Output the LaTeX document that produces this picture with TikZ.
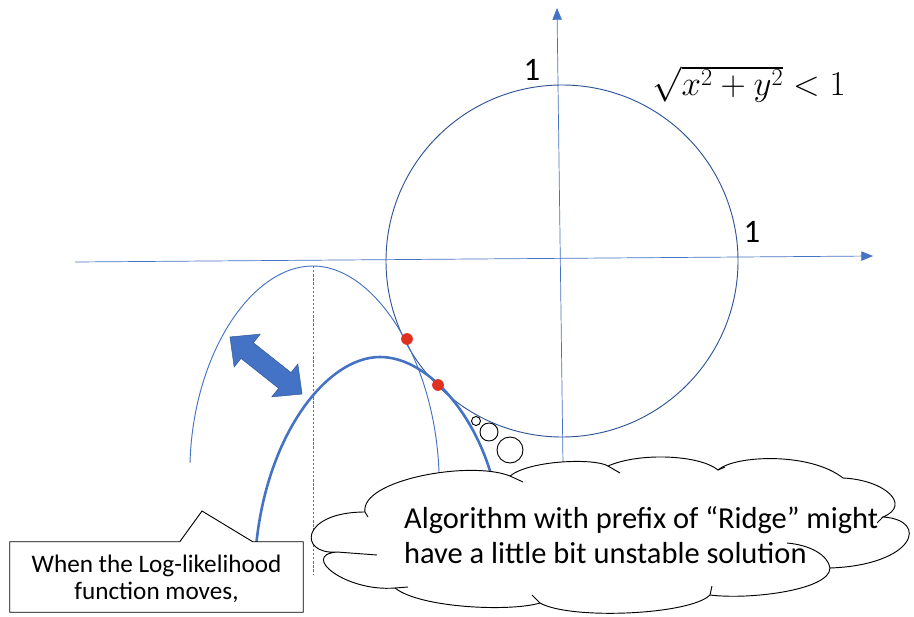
\documentclass[tikz,border=0pt]{standalone}
\usepackage{fontspec}
\setmainfont{Carlito}
\usepackage{tikz}
\usetikzlibrary{arrows.meta, positioning, calc}

\definecolor{axisblue}{RGB}{68,114,196}
\definecolor{ringblue}{RGB}{47,85,151}
\definecolor{dotred}{RGB}{224,48,32}

\begin{document}
\begin{tikzpicture}[x=0.03cm, y=-0.03cm,
    axis/.style={draw=axisblue, line width=0.6pt, -{Triangle[length=10pt, width=8pt]}},
    hit/.style={circle, fill=dotred, minimum size=10pt, inner sep=0pt},
    bubble/.style={circle, draw, line width=0.8pt, fill=white, inner sep=0pt}]
  \useasboundingbox (0,0) rectangle (914,617);

  % axes and the unit circle
  \coordinate (xs) at (75,262);
  \coordinate (xe) at (873,256);
  \coordinate (ys) at (563,465);
  \coordinate (ye) at (557,8);
  \draw[axis] (xs) -- (xe);
  \draw[axis] (ys) -- (ye);

  \node[circle, draw=ringblue, line width=0.8pt, minimum size=10.56cm, inner sep=0pt] (unit) at (562,261) {};
  \node (oney) at (532,70) {\fontsize{28}{30}\selectfont 1};
  \node (onex) at (752,232) {\fontsize{28}{30}\selectfont 1};
  \node[scale=1.2] (cond) at (749,84) {\fontsize{24}{26}\selectfont $\sqrt{x^2+y^2}<1$};

  % log-likelihood before and after the move
  \coordinate (oldl) at (190,463);
  \coordinate (oldtop) at (313,266);
  \coordinate (oldr) at (439,472);
  \coordinate (newl) at (255,560);
  \coordinate (newtop) at (380,357);
  \coordinate (newr) at (495,490);
  \coordinate (foot) at (313,575);
  \draw[axisblue, line width=0.8pt] (oldl) .. controls (193,355) and (251,266) .. (oldtop)
    .. controls (375,266) and (435,360) .. (oldr);
  \draw[axisblue, line width=0.6pt, dash pattern=on 2pt off 1.5pt] (oldtop) -- (foot);
  \draw[axisblue, line width=2.2pt] (newl) .. controls (262,440) and (325,357) .. (newtop)
    .. controls (430,357) and (480,420) .. (newr);

  \node[hit] (p1) at (407,339) {};
  \node[hit] (p2) at (438,385) {};

  % the move
  \begin{scope}[shift={(266,365.5)}, x=0.03cm, y=0.03cm, rotate=-38.4]
    \fill[axisblue, draw=ringblue, line width=0.4pt] (-46,0) -- (-24,21) -- (-24,10) -- (24,10) -- (24,21)
      -- (46,0) -- (24,-21) -- (24,-10) -- (-24,-10) -- (-24,-21) -- cycle;
  \end{scope}

  % thought bubble
  \node[bubble, minimum size=0.27cm] (b1) at (476,421) {};
  \node[bubble, minimum size=0.54cm] (b2) at (489,432) {};
  \node[bubble, minimum size=0.78cm] (b3) at (510,450) {};
  \draw[fill=white, line width=0.8pt] (337,552) .. controls (298,555) and (300,512) .. (365,512)
    .. controls (360,480) and (470,460) .. (510,476)
    .. controls (530,460) and (595,458) .. (608,466)
    .. controls (640,452) and (700,455) .. (718,470)
    .. controls (735,455) and (810,452) .. (843,478)
    .. controls (885,480) and (912,505) .. (883,517)
    .. controls (930,520) and (915,565) .. (830,568)
    .. controls (830,590) and (750,600) .. (710,595)
    .. controls (690,615) and (570,620) .. (540,603)
    .. controls (510,612) and (420,608) .. (395,588)
    .. controls (345,592) and (300,555) .. (337,552) -- cycle;
  \draw[line width=0.8pt] (337,552) -- (377,555);
  \draw[line width=0.8pt] (365,512) -- (368,517);
  \draw[line width=0.8pt] (510,476) -- (523,482);
  \draw[line width=0.8pt] (608,466) -- (620,473);
  \draw[line width=0.8pt] (718,470) -- (725,467);
  \draw[line width=0.8pt] (883,517) -- (877,523);
  \draw[line width=0.8pt] (787,543) .. controls (810,545) and (828,555) .. (830,568);
  \draw[line width=0.8pt] (710,595) -- (712,586);
  \draw[line width=0.8pt] (540,603) -- (532,595);
  \draw[line width=0.8pt] (395,588) -- (408,587);
  \node[anchor=west, align=left, font=\fontsize{26}{30}\selectfont] (idea) at (400,535)
    {Algorithm with prefix of “Ridge” might\\have a little bit unstable solution};

  % callout
  \node[fill=white, minimum width=8.79cm, minimum height=2.1cm] (note) at (156.5,577) {};
  \coordinate (tipc) at (202,511);
  \draw[fill=white, line width=0.8pt] (note.north west) -- ($(note.north west)+(170,0)$) -- (tipc)
    -- ($(note.north west)+(243,0)$) -- (note.north east) -- (note.south east) -- (note.south west) -- cycle;
  \node[align=center, font=\fontsize{21.5}{23}\selectfont] (notetext) at ($(note)+(0,2)$)
    {When the Log-likelihood\\function moves,};
\end{tikzpicture}
\end{document}
